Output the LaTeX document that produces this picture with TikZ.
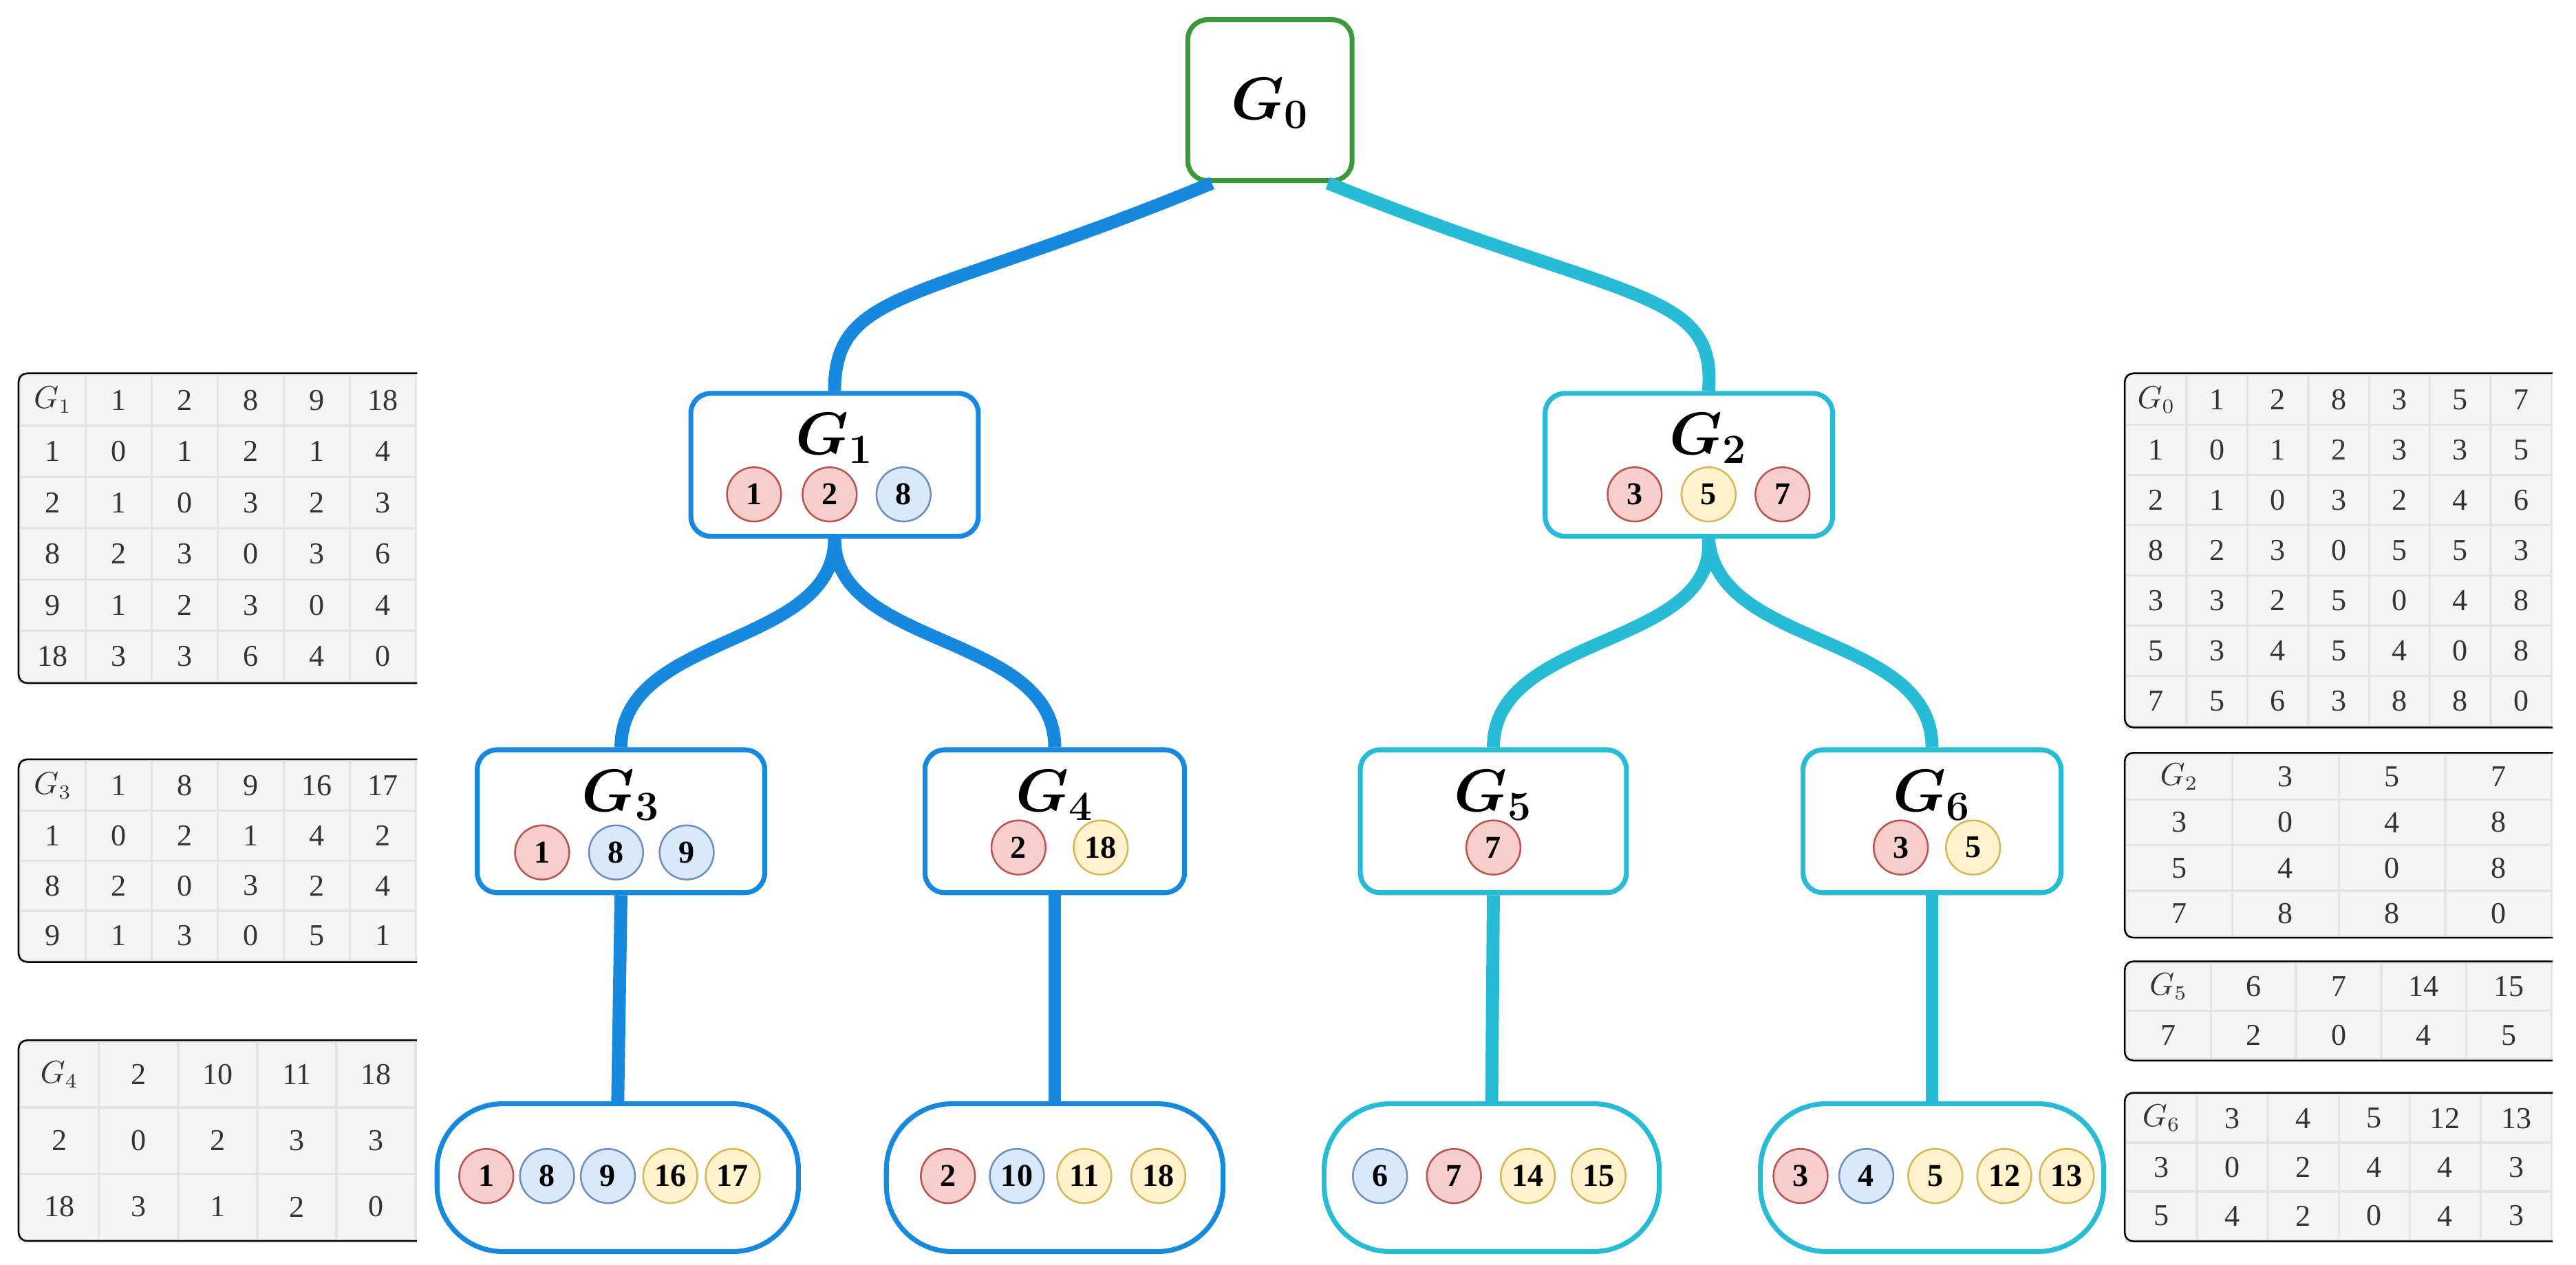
\documentclass[tikz,border=0pt]{standalone}
\usepackage{fontspec}
\usepackage{bm}
\setmainfont{Liberation Serif}
\usetikzlibrary{positioning}
\definecolor{lblue}{HTML}{1688DE}
\definecolor{lcyan}{HTML}{27BBD6}
\definecolor{lgreen}{HTML}{3A9A3A}
\definecolor{redf}{HTML}{F8CECC}\definecolor{redd}{HTML}{B85450}
\definecolor{bluef}{HTML}{DAE8FC}\definecolor{blued}{HTML}{6C8EBF}
\definecolor{yelf}{HTML}{FFF2CC}\definecolor{yeld}{HTML}{D6B656}
\definecolor{cellf}{HTML}{F4F4F4}\definecolor{celld}{HTML}{E4E4E4}

\tikzset{
box/.style={draw, line width=1.7pt, rounded corners=0.24cm, fill=white, minimum width=3.5cm, minimum height=1.74cm},
leaf/.style={box, rounded corners=0.8cm, minimum width=4.3cm, minimum height=1.8cm},
title/.style={font=\fontsize{21}{25}\selectfont},
vx/.style={circle, minimum size=0.66cm, inner sep=0pt, line width=0.6pt, font=\fontsize{11}{12}\selectfont\bfseries},
vr/.style={vx, fill=redf, draw=redd},
vb/.style={vx, fill=bluef, draw=blued},
vy/.style={vx, fill=yelf, draw=yeld},
link/.style={line width=4.5pt},
cell/.style={draw=celld, fill=cellf, line width=0.8pt, inner sep=0pt, text=black!80, font=\fontsize{10.5}{12}\selectfont},
frame/.style={line width=0.6pt, rounded corners=3pt},
}

% name, x, y, cell width, cell height, rows
\newcommand\distab[6]{%
\foreach \row [count=\r] in {#6}{
  \foreach \v [count=\c] in \row {
    \node[cell, minimum width=#4*0.02cm, minimum height=#5*0.02cm] (#1-\r-\c)
      at ({#2+\c*#4-#4/2}, {#3+\r*#5-#5/2}) {\v};
  }
}}

\begin{document}
\begin{tikzpicture}[x=0.02cm, y=-0.02cm]
\useasboundingbox (0,0) rectangle (1568,770);

% tree boxes
\node[box, draw=lgreen, minimum width=2cm, minimum height=1.96cm] (g0) at (773,61) {};
\node[title] (g0t) at (773,63) {$\bm{G_0}$};

\node[box, draw=lblue] (g1) at (508,283) {};
\node[title] (g1t) at (508,267) {$\bm{G_1}$};
\node[vr] (g1a) at (459,301) {1};
\node[vr] (g1b) at (505,301) {2};
\node[vb] (g1c) at (550,301) {8};

\node[box, draw=lcyan] (g2) at (1028,283) {};
\node[title] (g2t) at (1040,267) {$\bm{G_2}$};
\node[vr] (g2a) at (995,301) {3};
\node[vy] (g2b) at (1040,301) {5};
\node[vr] (g2c) at (1085,301) {7};

\node[box, draw=lblue] (g3) at (378,500) {};
\node[title] (g3t) at (378,484) {$\bm{G_3}$};
\node[vr] (g3a) at (330,519) {1};
\node[vb] (g3b) at (375,519) {8};
\node[vb] (g3c) at (418,519) {9};

\node[box, draw=lblue, minimum width=3.16cm] (g4) at (642,500) {};
\node[title] (g4t) at (642,484) {$\bm{G_4}$};
\node[vr] (g4a) at (620,516) {2};
\node[vy] (g4b) at (670,516) {18};

\node[box, draw=lcyan, minimum width=3.24cm] (g5) at (909,500) {};
\node[title] (g5t) at (909,484) {$\bm{G_5}$};
\node[vr] (g5a) at (909,516) {7};

\node[box, draw=lcyan, minimum width=3.14cm] (g6) at (1176,500) {};
\node[title] (g6t) at (1176,484) {$\bm{G_6}$};
\node[vr] (g6a) at (1157,516) {3};
\node[vy] (g6b) at (1201,516) {5};

% leaves
\node[leaf, draw=lblue, minimum width=4.4cm] (l1) at (376,717) {};
\node[vr] (l1a) at (296,716) {1};
\node[vb] (l1b) at (333,716) {8};
\node[vb] (l1c) at (370,716) {9};
\node[vy] (l1d) at (408,716) {16};
\node[vy] (l1e) at (446,716) {17};

\node[leaf, draw=lblue, minimum width=4.1cm] (l2) at (642,717) {};
\node[vr] (l2a) at (577,716) {2};
\node[vb] (l2b) at (619,716) {10};
\node[vy] (l2c) at (660,716) {11};
\node[vy] (l2d) at (705,716) {18};

\node[leaf, draw=lcyan, minimum width=4.08cm] (l3) at (908,717) {};
\node[vb] (l3a) at (840,716) {6};
\node[vr] (l3b) at (885,716) {7};
\node[vy] (l3c) at (930,716) {14};
\node[vy] (l3d) at (973,716) {15};

\node[leaf, draw=lcyan, minimum width=4.18cm] (l4) at (1176,717) {};
\node[vr] (l4a) at (1096,716) {3};
\node[vb] (l4b) at (1136,716) {4};
\node[vy] (l4c) at (1178,716) {5};
\node[vy] (l4d) at (1220,716) {12};
\node[vy] (l4e) at (1258,716) {13};

% links
\draw[link, lblue] (g0.-125) .. controls (560,185) and (508,175) .. (g1.north);
\draw[link, lcyan] (g0.-55) .. controls (990,185) and (1045,175) .. (g2.north-|g2t);
\draw[link, lblue] (g1.south) .. controls (508,395) and (378,385) .. (g3.north);
\draw[link, lblue] (g1.south) .. controls (508,395) and (642,385) .. (g4.north);
\draw[link, lcyan] (g2.south-|g2t) .. controls (1045,395) and (909,385) .. (g5.north);
\draw[link, lcyan] (g2.south-|g2t) .. controls (1045,395) and (1176,385) .. (g6.north);
\draw[link, lblue] (g3.south) -- (l1.north);
\draw[link, lblue] (g4.south) -- (l2.north);
\draw[link, lcyan] (g5.south) -- (l3.north);
\draw[link, lcyan] (g6.south) -- (l4.north);

% distance tables
\distab{t1}{12}{228}{40.2}{31.2}{{$G_1$,1,2,8,9,18},{1,0,1,2,1,4},{2,1,0,3,2,3},{8,2,3,0,3,6},{9,1,2,3,0,4},{18,3,3,6,4,0}}
\distab{t3}{12}{463}{40.2}{30.5}{{$G_3$,1,8,9,16,17},{1,0,2,1,4,2},{8,2,0,3,2,4},{9,1,3,0,5,1}}
\distab{t4}{12}{634}{48.2}{40.3}{{$G_4$,2,10,11,18},{2,0,2,3,3},{18,3,1,2,0}}
\distab{t0}{1294}{228}{37}{30.6}{{$G_0$,1,2,8,3,5,7},{1,0,1,2,3,3,5},{2,1,0,3,2,4,6},{8,2,3,0,5,5,3},{3,3,2,5,0,4,8},{5,3,4,5,4,0,8},{7,5,6,3,8,8,0}}
\distab{t2}{1294}{459}{64.8}{27.8}{{$G_2$,3,5,7},{3,0,4,8},{5,4,0,8},{7,8,8,0}}
\distab{t5}{1294}{586}{51.8}{29.5}{{$G_5$,6,7,14,15},{7,2,0,4,5}}
\distab{t6}{1294}{666}{43.2}{29.7}{{$G_6$,3,4,5,12,13},{3,0,2,4,4,3},{5,4,2,0,4,3}}

\draw[frame] (t1-1-6.north east) -- (t1-1-1.north west) -- (t1-6-1.south west) -- (t1-6-6.south east);
\draw[frame] (t3-1-6.north east) -- (t3-1-1.north west) -- (t3-4-1.south west) -- (t3-4-6.south east);
\draw[frame] (t4-1-5.north east) -- (t4-1-1.north west) -- (t4-3-1.south west) -- (t4-3-5.south east);
\draw[frame] (t0-1-7.north east) -- (t0-1-1.north west) -- (t0-7-1.south west) -- (t0-7-7.south east);
\draw[frame] (t2-1-4.north east) -- (t2-1-1.north west) -- (t2-4-1.south west) -- (t2-4-4.south east);
\draw[frame] (t5-1-5.north east) -- (t5-1-1.north west) -- (t5-2-1.south west) -- (t5-2-5.south east);
\draw[frame] (t6-1-6.north east) -- (t6-1-1.north west) -- (t6-3-1.south west) -- (t6-3-6.south east);
\end{tikzpicture}
\end{document}
